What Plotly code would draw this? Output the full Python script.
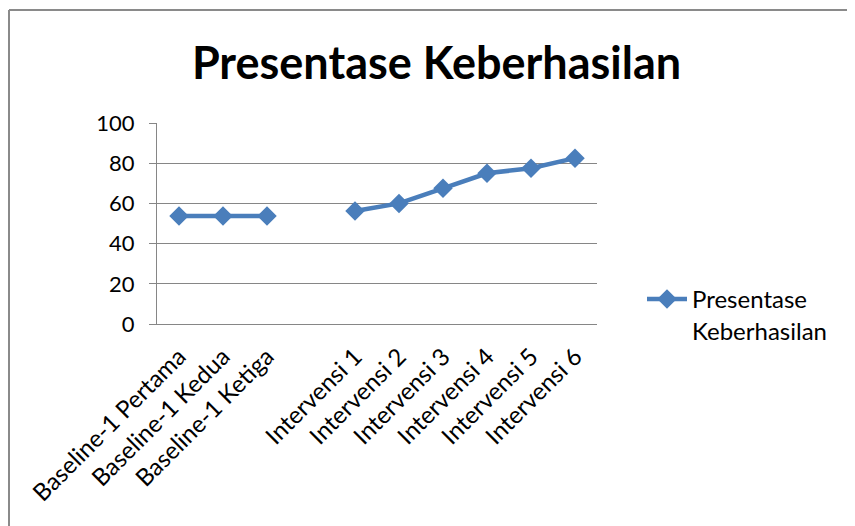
import plotly.graph_objects as go

categories = ["Baseline-1 Pertama", "Baseline-1 Kedua", "Baseline-1 Ketiga", "",
              "Intervensi 1", "Intervensi 2", "Intervensi 3", "Intervensi 4",
              "Intervensi 5", "Intervensi 6"]
values = [53.75, 53.75, 53.75, None, 56.25, 60, 67.5, 75, 77.5, 82.5]
y_ticks = [0, 20, 40, 60, 80, 100]
series_name = "Presentase<br>Keberhasilan"
title_text = "Presentase Keberhasilan"

positions = list(range(len(categories)))
FONT = "Lato"
BLUE = "#4a7ebb"
GRID = "#868686"

W, H = 847, 518
L, T = 149, 115
PW, PH = 440, 201
R = W - L - PW
B = H - T - PH
Y0 = T + PH  # pixel y of value 0 (figure coords)

fig = go.Figure()
fig.add_trace(go.Scatter(
    x=positions, y=values, mode="lines+markers",
    name=series_name,
    line=dict(color=BLUE, width=4.5),
    marker=dict(symbol="diamond", size=15, color=BLUE),
    connectgaps=False,
))

bx = (1 - L) / PW
by = (Y0 - 2) / PH
fig.update_layout(
    width=W, height=H,
    margin=dict(l=L, r=R, t=T, b=B),
    paper_bgcolor="white", plot_bgcolor="white",
    font=dict(family=FONT, size=22, color="black"),
    title=dict(text="<b>" + title_text + "</b>", x=428.5 / W, xref="container",
               y=1 - 55 / H, yref="container", xanchor="center", yanchor="middle",
               font=dict(family=FONT, size=45, color="black")),
    showlegend=True,
    legend=dict(x=(634 - L) / PW, xanchor="left", y=(Y0 - 269) / PH, yanchor="top",
                valign="top", font=dict(family=FONT, size=24),
                bgcolor="rgba(0,0,0,0)", itemwidth=40),
    xaxis=dict(range=[-0.5, len(categories) - 0.5], tickmode="array",
               tickvals=positions, ticktext=categories, tickangle=-45,
               showgrid=False, zeroline=False, showline=True, linecolor=GRID,
               linewidth=1, ticks="", ticklabelstandoff=8,
               tickfont=dict(family=FONT, size=24)),
    yaxis=dict(range=[0, 100], tickmode="array", tickvals=y_ticks,
               showgrid=True, gridcolor=GRID, gridwidth=1, zeroline=False,
               showline=True, linecolor=GRID, linewidth=1,
               ticks="outside", ticklen=7, tickcolor=GRID, ticklabelstandoff=10,
               tickfont=dict(family=FONT, size=22)),
    shapes=[
        dict(type="line", xref="paper", yref="paper", x0=bx, x1=(W + 20 - L) / PW,
             y0=by, y1=by, line=dict(color="#8a8a8a", width=2), layer="below"),
        dict(type="line", xref="paper", yref="paper", x0=bx, x1=bx,
             y0=by, y1=(Y0 - H - 20) / PH, line=dict(color="#8a8a8a", width=2),
             layer="below"),
    ],
)

fig.write_html("out.html")
